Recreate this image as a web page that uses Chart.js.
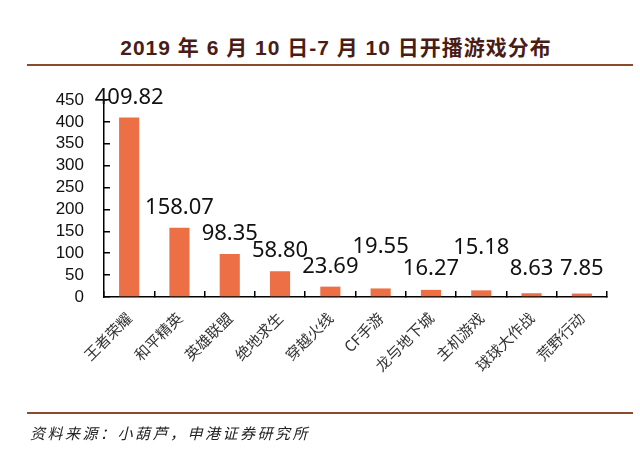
<!DOCTYPE html>
<html>
<head>
<meta charset="utf-8">
<script src="https://cdn.jsdelivr.net/npm/chart.js@4.4.0/dist/chart.umd.min.js"></script>
<style>
  html, body { margin: 0; padding: 0; background: #fff; }
  #wrap { position: relative; width: 640px; height: 468px; overflow: hidden; }
  #chart { position: absolute; left: 0; top: 0; }
  .title {
    position: absolute; left: 0; width: 672px; top: 31px; text-align: center;
    font: bold 21px "Liberation Sans", "Noto Sans CJK SC", sans-serif;
    letter-spacing: 1px; color: #4a1c16;
  }
  .rule { position: absolute; left: 27px; width: 606px; height: 2px; background: #8a4a2c; }
  .source {
    position: absolute; left: 30px; top: 422px;
    font: italic 15px "Noto Sans CJK SC", sans-serif;
    letter-spacing: 2.5px; color: #222;
  }
</style>
</head>
<body>
<div id="wrap">
  <div class="title">2019 年 6 月 10 日-7 月 10 日开播游戏分布</div>
  <div class="rule" style="top:64px"></div>
  <canvas id="chart" width="640" height="468"></canvas>
  <div class="rule" style="top:412px"></div>
  <div class="source">资料来源：小葫芦，申港证券研究所</div>
</div>
<script>
const games = ['王者荣耀', '和平精英', '英雄联盟', '绝地求生', '穿越火线', 'CF手游', '龙与地下城', '主机游戏', '球球大作战', '荒野行动'];
const streamers = [409.82, 158.07, 98.35, 58.80, 23.69, 19.55, 16.27, 15.18, 8.63, 7.85];
const yMax = 450;
const yStep = 50;

// value labels above bars, raised when they would collide with the previous one
const valueLabels = {
  id: 'valueLabels',
  afterDatasetsDraw(chart) {
    const ctx = chart.ctx;
    const meta = chart.getDatasetMeta(0);
    const floor = chart.scales.x.top - 22;
    ctx.save();
    ctx.font = '22px "Noto Sans", sans-serif';
    ctx.fillStyle = '#111';
    ctx.textAlign = 'center';
    ctx.textBaseline = 'alphabetic';
    let prev = null;
    meta.data.forEach((bar, i) => {
      const txt = streamers[i].toFixed(2);
      const w = ctx.measureText(txt).width;
      const base = Math.min(bar.y - 14, floor);
      let y = base;
      if (prev && Math.abs(base - prev.y) < 2 && bar.x - w / 2 < prev.x + prev.w / 2) {
        y = base - 21;
      }
      ctx.fillText(txt, bar.x, y);
      prev = { x: bar.x, y, w };
    });
    ctx.restore();
  }
};

new Chart(document.getElementById('chart'), {
  type: 'bar',
  data: {
    labels: games,
    datasets: [{
      data: streamers,
      backgroundColor: '#ec6f46',
      barPercentage: 0.4,
      categoryPercentage: 1.0
    }]
  },
  options: {
    responsive: false,
    animation: false,
    layout: { padding: { left: 0, right: 33, top: 100, bottom: 71 } },
    plugins: { legend: { display: false }, tooltip: { enabled: false } },
    scales: {
      x: {
        afterFit(scale) { scale.height = 100; },
        grid: { display: true, drawOnChartArea: false, offset: true, tickLength: -6, color: '#000', lineWidth: 1.5 },
        border: { color: '#000', width: 1.5 },
        ticks: {
          minRotation: 45, maxRotation: 45, padding: 18,
          color: '#333',
          font: { family: '"Noto Sans CJK SC", sans-serif', size: 15 }
        }
      },
      y: {
        min: 0, max: yMax,
        afterFit(scale) { scale.width = 104; },
        grid: { display: true, drawOnChartArea: false, tickLength: -6, color: '#000', lineWidth: 1.5 },
        border: { color: '#000', width: 1.5 },
        ticks: {
          stepSize: yStep, autoSkip: false,
          padding: 26,
          color: '#111',
          font: { family: '"Liberation Sans", Arial, sans-serif', size: 17 }
        }
      }
    }
  },
  plugins: [valueLabels]
});
</script>
</body>
</html>
